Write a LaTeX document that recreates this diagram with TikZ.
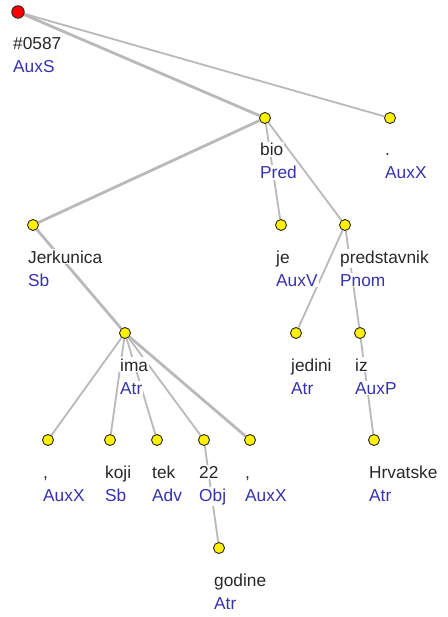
\documentclass[tikz,border=0pt]{standalone}
\usepackage{fontspec}
\setmainfont{Liberation Sans}
\usetikzlibrary{backgrounds}
\definecolor{wordcol}{RGB}{40,40,40}
\definecolor{funccol}{RGB}{55,50,175}
\definecolor{edgecol}{RGB}{185,185,185}
\newcommand\treenode[6][dot]{%
  \node[#1] (#2) at (#3,#4) {};
  \node[wordlab] (#2-w) at ([shift={(-6pt,-38pt)}]#2.center) {#5};
  \node[funclab] (#2-f) at ([shift={(-6pt,-61pt)}]#2.center) {#6};
}
\begin{document}
\begin{tikzpicture}[x=1pt,y=-1pt,
    dot/.style={circle,draw=black!85,fill=yellow,inner sep=0pt,minimum size=11pt,line width=0.9pt},
    rootdot/.style={dot,fill=red,minimum size=12.5pt},
    wordlab/.style={anchor=base west,fill=white,inner sep=1pt,text=wordcol,font=\fontsize{17.3}{23}\selectfont},
    funclab/.style={wordlab,text=funccol},
    edge/.style={draw=edgecol,line width=1.8pt},
    thickedge/.style={draw=edgecol,line width=2.8pt}]
  \useasboundingbox (0,0) rectangle (447,617);
  \treenode[rootdot]{root}{18}{12}{\#0587}{AuxS}
  \treenode{bio}{265}{118}{bio}{Pred}
  \treenode{dot}{390}{118}{.}{AuxX}
  \treenode{jerk}{33}{225}{Jerkunica}{Sb}
  \treenode{je}{281}{225}{je}{AuxV}
  \treenode{pred}{345}{225}{predstavnik}{Pnom}
  \treenode{ima}{125}{333}{ima}{Atr}
  \treenode{jedini}{296}{333}{jedini}{Atr}
  \treenode{iz}{360}{333}{iz}{AuxP}
  \treenode{commaa}{48}{440}{,}{AuxX}
  \treenode{koji}{110}{440}{koji}{Sb}
  \treenode{tek}{157}{440}{tek}{Adv}
  \treenode{num}{204}{440}{22}{Obj}
  \treenode{commab}{250}{440}{,}{AuxX}
  \treenode{hrv}{374}{440}{Hrvatske}{Atr}
  \treenode{godine}{219}{548}{godine}{Atr}
  \begin{scope}[on background layer]
    \draw[thickedge] (root) -- (bio);
    \draw[edge] (root) -- (dot);
    \draw[thickedge] (bio) -- (jerk);
    \draw[edge] (bio) -- (je);
    \draw[edge] (bio) -- (pred);
    \draw[thickedge] (jerk) -- (ima);
    \draw[edge] (pred) -- (jedini);
    \draw[edge] (pred) -- (iz);
    \draw[edge] (iz) -- (hrv);
    \draw[edge] (ima) -- (commaa);
    \draw[edge] (ima) -- (koji);
    \draw[edge] (ima) -- (tek);
    \draw[edge] (ima) -- (num);
    \draw[thickedge] (ima) -- (commab);
    \draw[edge] (num) -- (godine);
  \end{scope}
\end{tikzpicture}
\end{document}
